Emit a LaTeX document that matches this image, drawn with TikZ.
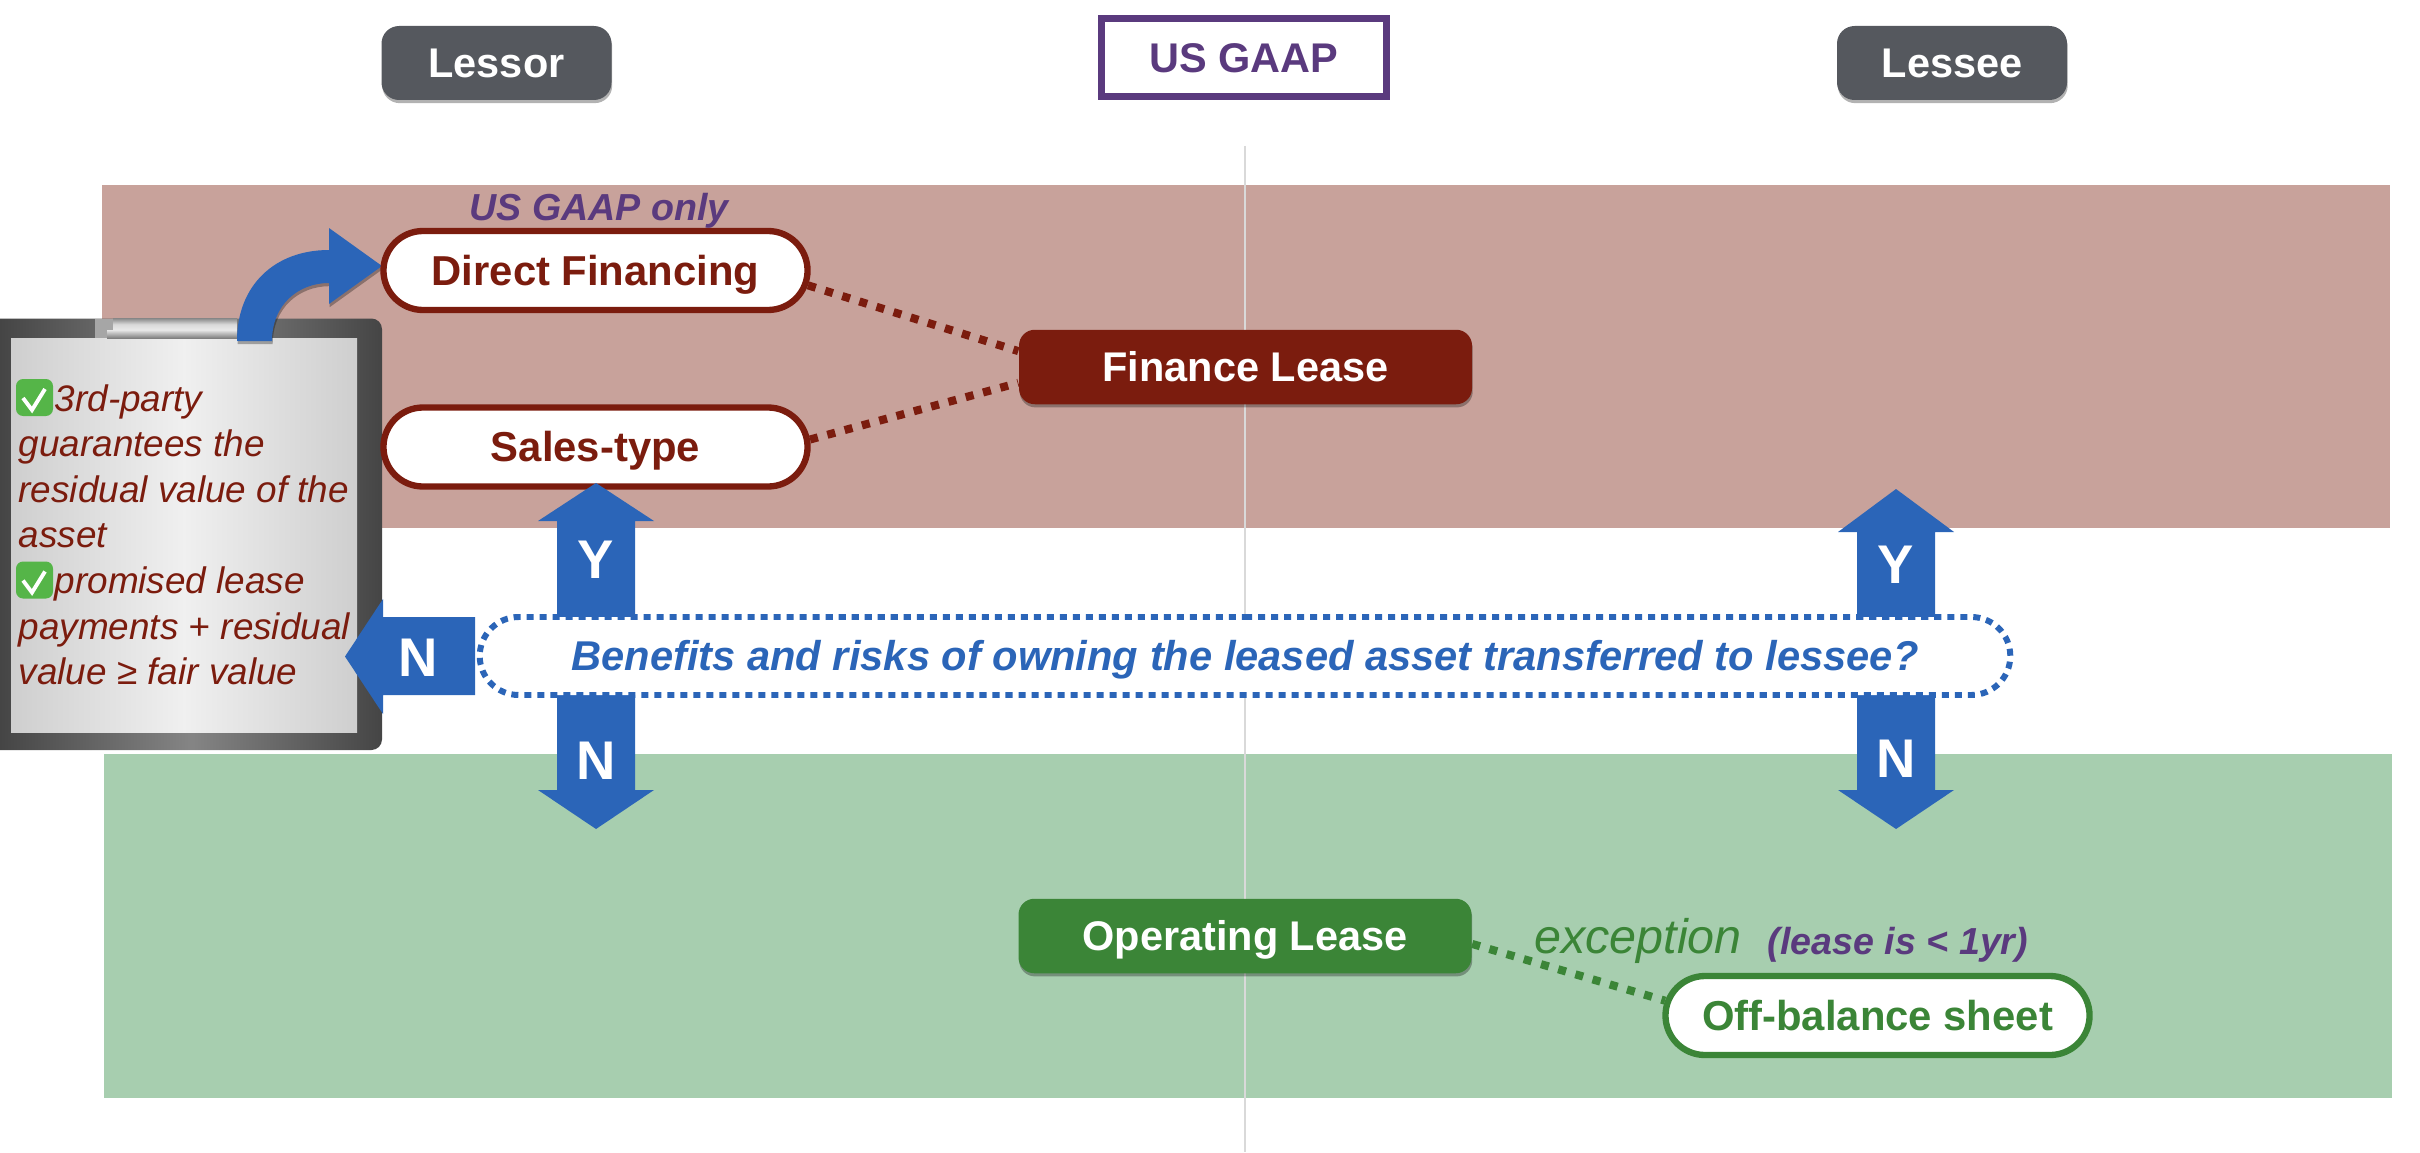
\documentclass[tikz,border=0pt]{standalone}
\usepackage{fontspec}
\setmainfont{Liberation Sans}
\usetikzlibrary{shapes.misc, shadows}
\definecolor{financered}{HTML}{7B1C0E}
\definecolor{financeband}{HTML}{C8A29B}
\definecolor{operatinggreen}{HTML}{3B8537}
\definecolor{operatingband}{HTML}{A7CEAF}
\definecolor{gaappurple}{HTML}{5A3A7E}
\definecolor{sidegrey}{HTML}{55585E}
\definecolor{blockblue}{HTML}{2B65B8}
\definecolor{checkgreen}{HTML}{55B548}
\begin{document}
\begin{tikzpicture}

            \tikzstyle{softshadow} = [drop shadow={shadow xshift=0.2pt, shadow yshift=-0.9pt, opacity=0.3, fill=black}];
            \tikzstyle{captext} = [text height=8.5pt, text depth=0pt];
            \tikzstyle{sidenode} = [draw=none, fill=sidegrey, rounded corners=5pt, minimum width=2.3cm, minimum height=0.74cm, text=white, captext, font=\fontsize{11.8}{14}\selectfont\bfseries, softshadow];
            \tikzstyle{leasenode} = [rounded corners=4.5pt, minimum width=4.53cm, minimum height=0.745cm, text=white, captext, font=\fontsize{11.8}{14}\selectfont\bfseries, softshadow];
            \tikzstyle{pillnode} = [draw, fill=white, rounded rectangle, line width=1.8pt, minimum width=4.475cm, minimum height=0.79cm, captext, font=\fontsize{11.9}{14}\selectfont\bfseries];
            \tikzstyle{dotline} = [line width=2.3pt, dash pattern=on 2.3pt off 2.8pt];
            \tikzstyle{arrowlabel} = [text=white, font=\fontsize{15.5}{18}\selectfont\bfseries];

            \useasboundingbox (0,0) rectangle (24.2,-11.52);

            \fill[financeband] (1.02,-1.855) rectangle (23.9,-5.28);
            \fill[operatingband] (1.04,-7.54) rectangle (23.92,-10.98);

            \coordinate (axistop) at (12.45,-1.46);
            \coordinate (axisbottom) at (12.45,-11.52);
            \draw[line width=0.6pt, color=black!15] (axistop) -- (axisbottom);

            \shade[left color=black!73, right color=black!73, middle color=black!48] (0,-3.185) [rounded corners=3pt] -- (3.82,-3.185) -- (3.82,-7.5) [sharp corners] -- (0,-7.5) -- cycle;
            \shade[left color=black!19, right color=black!19, middle color=black!6] (0.11,-3.38) rectangle (3.57,-7.32);
            \fill[black!35] (0.95,-3.185) rectangle (1.13,-3.38);
            \shade[top color=black!45, bottom color=black!8, middle color=black!15] (1.13,-3.185) rectangle (2.37,-3.30);
            \shade[top color=black!10, bottom color=black!50] (1.07,-3.30) rectangle (2.37,-3.38);

            \fill[blockblue, softshadow] (2.37,-3.41) .. controls (2.37,-2.85) and (2.75,-2.50) .. (3.29,-2.50) -- (3.29,-2.28) -- (3.82,-2.66) -- (3.29,-3.04) -- (3.29,-2.83) .. controls (2.98,-2.83) and (2.72,-3.05) .. (2.72,-3.41) -- cycle;

            \foreach \y in {3.79, 5.615} {
                \fill[checkgreen, rounded corners=2pt] (0.16,-\y) rectangle (0.53,-\y-0.37);
                \draw[white, line width=1.1pt] (0.23,-\y-0.19) -- (0.32,-\y-0.31) -- (0.45,-\y-0.10);
            }

            \node[anchor=north west, inner sep=0pt, align=left, text=financered, font=\fontsize{10.5}{12.95}\selectfont\itshape] (notes) at (0.18,-3.84) {\hspace{0.36cm}3rd-party\\guarantees the\\residual value of the\\asset\\\hspace{0.36cm}promised lease\\payments + residual\\value ≥ fair value};

            \node[pillnode, draw=financered, text=financered] (direct) at (5.955,-2.705) {Direct Financing};
            \node[pillnode, draw=financered, text=financered] (sales) at (5.955,-4.47) {Sales-type};

            \foreach \x/\tip/\base in {5.96/4.83/5.21, 18.96/4.89/5.32} {
                \fill[blockblue] (\x-0.39,-6.2) -- (\x-0.39,-\base) -- (\x-0.58,-\base) -- (\x,-\tip) -- (\x+0.58,-\base) -- (\x+0.39,-\base) -- (\x+0.39,-6.2) -- cycle;
                \fill[blockblue] (\x-0.39,-6.9) -- (\x-0.39,-7.9) -- (\x-0.58,-7.9) -- (\x,-8.29) -- (\x+0.58,-7.9) -- (\x+0.39,-7.9) -- (\x+0.39,-6.9) -- cycle;
            }
            \fill[blockblue] (4.75,-6.17) -- (3.83,-6.17) -- (3.83,-5.99) -- (3.45,-6.565) -- (3.83,-7.14) -- (3.83,-6.95) -- (4.75,-6.95) -- cycle;

            \node[arrowlabel] (yleft) at (5.96,-5.60) {Y};
            \node[arrowlabel] (ydownleft) at (5.96,-7.61) {N};
            \node[arrowlabel] (nleft) at (4.18,-6.575) {N};
            \node[arrowlabel] (yright) at (18.96,-5.65) {Y};
            \node[arrowlabel] (ndownright) at (18.96,-7.59) {N};

            \node[sidenode] (lessor) at (4.965,-0.63) {Lessor};
            \node[draw=gaappurple, line width=1.85pt, minimum width=2.85cm, minimum height=0.78cm, text=gaappurple, captext, font=\fontsize{11.8}{14}\selectfont\bfseries] (gaap) at (12.44,-0.575) {US GAAP};
            \node[sidenode] (lessee) at (19.52,-0.63) {Lessee};

            \node[text=gaappurple, font=\fontsize{10.7}{13}\selectfont\bfseries\itshape] (only) at (5.99,-2.11) {US GAAP only};

            \node[leasenode, fill=financered] (finance) at (12.455,-3.67) {Finance Lease};

            \node[pillnode, draw=blockblue, line width=1.7pt, dash pattern=on 2pt off 1.7pt, minimum width=15.54cm, minimum height=0.78cm, text=blockblue, font=\fontsize{11.85}{14}\selectfont\bfseries\itshape] (question) at (12.45,-6.56) {Benefits and risks of owning the leased asset transferred to lessee?};

            \node[leasenode, fill=operatinggreen] (operating) at (12.45,-9.36) {Operating Lease};
            \node[pillnode, draw=operatinggreen, text=operatinggreen] (offbalance) at (18.775,-10.155) {Off-balance sheet};

            \node[text=operatinggreen, anchor=base, font=\fontsize{13.8}{16}\selectfont\itshape] (exception) at (16.38,-9.53) {exception};
            \node[text=gaappurple, anchor=base, font=\fontsize{10.7}{13}\selectfont\bfseries\itshape] (under) at (18.98,-9.54) {(lease is < 1yr)};

            \draw[dotline, color=financered] (direct.-4) -- (finance.176);
            \draw[dotline, color=financered] (sales.2) -- (finance.184);
            \draw[dotline, color=operatinggreen] (operating.-2.3) -- (offbalance.176.8);

\end{tikzpicture}
\end{document}
